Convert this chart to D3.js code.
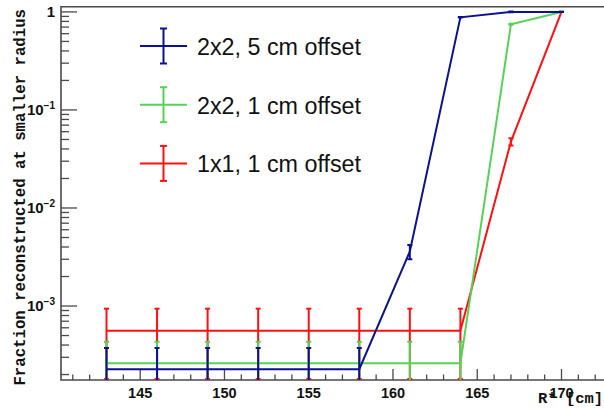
<!DOCTYPE html>
<html>
<head>
<meta charset="utf-8">
<script src="https://cdn.jsdelivr.net/npm/d3@7"></script>
<style>
  html, body { margin: 0; padding: 0; background: #fff; }
  svg { display: block; }
</style>
</head>
<body>
<svg id="chart" width="604" height="409"></svg>
<script>
// Radius points (cm) shared by all three configurations
const radius = [143, 146, 149, 152, 155, 158, 161, 164, 167, 170];

// 2x2 cells, 5 cm offset
const frac2x2o5 = [2.27e-4, 2.27e-4, 2.27e-4, 2.27e-4, 2.27e-4, 2.27e-4, 3.6e-3, 0.88, 1.0, 1.0];
const err2x2o5  = [1.46e-4, 1.46e-4, 1.46e-4, 1.46e-4, 1.46e-4, 1.46e-4, 0.6e-3, 0.005, 0.01, 0.005];

// 2x2 cells, 1 cm offset
const frac2x2o1 = [2.61e-4, 2.61e-4, 2.61e-4, 2.61e-4, 2.61e-4, 2.61e-4, 2.61e-4, 2.61e-4, 0.749, 1.0];
const err2x2o1  = [1.7e-4, 1.7e-4, 1.7e-4, 1.7e-4, 1.7e-4, 1.7e-4, 1.7e-4, 1.7e-4, 0.01, 0.003];

// 1x1 cells, 1 cm offset
const frac1x1o1 = [5.6e-4, 5.6e-4, 5.6e-4, 5.6e-4, 5.6e-4, 5.6e-4, 5.6e-4, 5.6e-4, 0.0475, 1.0];
const err1x1o1  = [3.8e-4, 3.8e-4, 3.8e-4, 3.8e-4, 3.8e-4, 3.8e-4, 3.8e-4, 3.8e-4, 0.004, 0.003];

const legendLabels = ["2x2, 5 cm offset", "2x2, 1 cm offset", "1x1, 1 cm offset"];
const xMajorTicks = [145, 150, 155, 160, 165, 170];
const yDecades = [1e-3, 1e-2, 1e-1, 1];
const yDecadeExp = ["-3", "-2", "-1", ""];

const series = [
  { name: legendLabels[0], y: frac2x2o5, e: err2x2o5, color: "#0b1190" },
  { name: legendLabels[1], y: frac2x2o1, e: err2x2o1, color: "#57d257" },
  { name: legendLabels[2], y: frac1x1o1, e: err1x1o1, color: "#ff1010" }
];

const svg = d3.select("#chart");
const frameL = 61, frameR = 607, frameT = 6.7, frameB = 380;

const x = d3.scaleLinear().domain([140.3, 172.7]).range([frameL, frameR]);
const y = d3.scaleLog().domain([1.76e-4, 1.13]).range([frameB, frameT]);

svg.append("defs").append("clipPath").attr("id", "frame")
  .append("rect").attr("x", frameL).attr("y", frameT)
  .attr("width", frameR - frameL).attr("height", frameB - frameT);

const axisColor = "#4a4a4a";

// x axis: ticks pointing up into the frame
const xMinor = d3.range(141, 173, 1);
const gx = svg.append("g");
gx.selectAll("line").data(xMinor).join("line")
  .attr("x1", d => x(d)).attr("x2", d => x(d))
  .attr("y1", frameB)
  .attr("y2", d => xMajorTicks.includes(d) ? frameB - 11 : frameB - 5.5)
  .attr("stroke", axisColor).attr("stroke-width", 1.3);
gx.selectAll("text").data(xMajorTicks).join("text")
  .attr("x", d => x(d)).attr("y", 398)
  .attr("text-anchor", "middle")
  .attr("font-family", "Liberation Sans, Arial, sans-serif")
  .attr("font-weight", "bold").attr("font-size", 14.5)
  .attr("fill", "#111")
  .text(d => d);

// y axis: log ticks
const yMinor = [];
for (let p = -4; p <= 0; p++) {
  for (let k = 2; k <= 9; k++) {
    const v = k * Math.pow(10, p);
    if (v >= y.domain()[0] && v <= y.domain()[1]) yMinor.push(v);
  }
}
const gy = svg.append("g");
gy.append("g").selectAll("line").data(yMinor).join("line")
  .attr("x1", frameL).attr("x2", frameL + 8)
  .attr("y1", d => y(d)).attr("y2", d => y(d))
  .attr("stroke", axisColor).attr("stroke-width", 1.3);
gy.append("g").selectAll("line").data(yDecades).join("line")
  .attr("x1", frameL).attr("x2", frameL + 16)
  .attr("y1", d => y(d)).attr("y2", d => y(d))
  .attr("stroke", axisColor).attr("stroke-width", 1.3);
const ylab = gy.append("g").selectAll("text").data(yDecades).join("text")
  .attr("x", 55).attr("y", d => y(d) + 5)
  .attr("text-anchor", "end")
  .attr("font-family", "Liberation Sans, Arial, sans-serif")
  .attr("font-weight", "bold").attr("font-size", 15)
  .attr("fill", "#111");
ylab.each(function (d, i) {
  const t = d3.select(this);
  if (yDecadeExp[i] === "") {
    t.text("1");
  } else {
    t.append("tspan").text("10");
    t.append("tspan").attr("dy", -6).attr("font-size", 10)
      .text("\u2212" + yDecadeExp[i].slice(1));
  }
});

// frame
svg.append("path")
  .attr("d", `M${frameR},${frameT}H${frameL}V${frameB}H${frameR}`)
  .attr("fill", "none").attr("stroke", axisColor).attr("stroke-width", 1.6);

// axis titles
svg.append("text")
  .attr("x", 538).attr("y", 403)
  .attr("font-family", "Liberation Mono, Courier New, monospace")
  .attr("font-weight", "bold").attr("font-size", 15.5)
  .attr("fill", "#111")
  .text("R* [cm]");
svg.append("text")
  .attr("transform", "translate(25,9) rotate(-90)")
  .attr("text-anchor", "end")
  .attr("font-family", "Liberation Mono, Courier New, monospace")
  .attr("font-weight", "bold").attr("font-size", 15.7)
  .attr("fill", "#111")
  .text("Fraction reconstructed at smaller radius");

// data: polylines with vertical error bars (1x1 underneath, 2x2/5 cm on top)
const plot = svg.append("g").attr("clip-path", "url(#frame)");
const line = d3.line().x(d => x(d[0])).y(d => y(d[1]));
const drawOrder = [series[2], series[1], series[0]];
drawOrder.forEach(s => {
  const pts = radius.map((r, i) => [r, s.y[i], s.e[i]]);
  const g = plot.append("g");
  g.append("path").datum(pts).attr("d", line)
    .attr("fill", "none").attr("stroke", s.color).attr("stroke-width", 2);
  const bars = pts.filter(p => p[2] > 0);
  const lo = p => y(Math.max(p[1] - p[2], 1e-6));
  const hi = p => y(p[1] + p[2]);
  g.append("g").selectAll("line").data(bars).join("line")
    .attr("x1", p => x(p[0])).attr("x2", p => x(p[0]))
    .attr("y1", lo).attr("y2", hi)
    .attr("stroke", s.color).attr("stroke-width", 2);
  g.append("g").selectAll("line").data(bars).join("line")
    .attr("x1", p => x(p[0]) - 2.5).attr("x2", p => x(p[0]) + 2.5)
    .attr("y1", hi).attr("y2", hi)
    .attr("stroke", s.color).attr("stroke-width", 2);
  g.append("g").selectAll("line").data(bars).join("line")
    .attr("x1", p => x(p[0]) - 2.5).attr("x2", p => x(p[0]) + 2.5)
    .attr("y1", lo).attr("y2", lo)
    .attr("stroke", s.color).attr("stroke-width", 2);
});

// legend
const leg = svg.append("g");
series.forEach((s, i) => {
  const cy = 46 + i * 58.7;
  const g = leg.append("g");
  g.append("line").attr("x1", 140).attr("x2", 187).attr("y1", cy).attr("y2", cy)
    .attr("stroke", s.color).attr("stroke-width", 2);
  g.append("line").attr("x1", 163.5).attr("x2", 163.5).attr("y1", cy - 17.5).attr("y2", cy + 17.5)
    .attr("stroke", s.color).attr("stroke-width", 2);
  [cy - 17.5, cy + 17.5].forEach(cv => {
    g.append("line").attr("x1", 160).attr("x2", 167).attr("y1", cv).attr("y2", cv)
      .attr("stroke", s.color).attr("stroke-width", 2);
  });
  g.append("text").attr("x", 197).attr("y", cy + 9)
    .attr("font-family", "Liberation Sans, Arial, sans-serif")
    .attr("font-size", 23.3).attr("fill", "#111")
    .text(s.name);
});
</script>
</body>
</html>
